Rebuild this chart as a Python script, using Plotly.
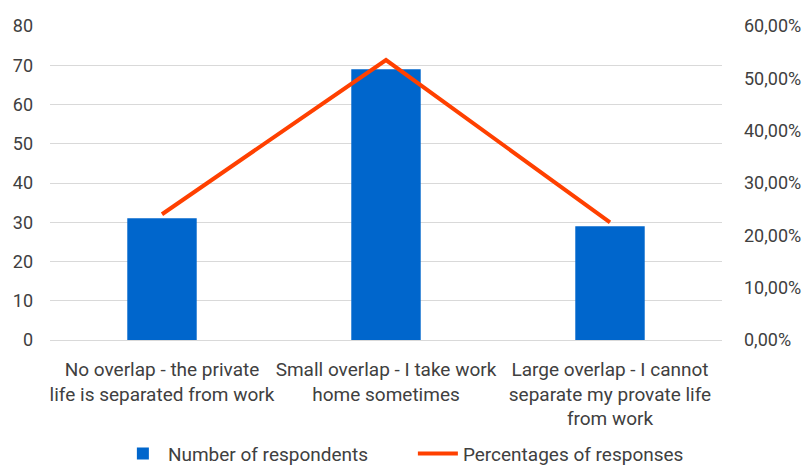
import plotly.graph_objects as go

categories = [
    "No overlap - the private<br>life is separated from work",
    "Small overlap - I take work<br>home sometimes",
    "Large overlap - I cannot<br>separate my provate life<br>from work",
]
respondents = [31, 69, 29]
percentages = [0.2403, 0.5349, 0.2248]

FONT = "Roboto"
FS = 18
COL = "#404040"

fig = go.Figure()
fig.add_trace(go.Bar(
    x=categories, y=respondents, name="Number of respondents",
    marker=dict(color="#0066CC", line=dict(width=0)), width=0.31,
))
fig.add_trace(go.Scatter(
    x=categories, y=percentages, name="Percentages of responses",
    mode="lines", line=dict(color="#FF4000", width=4), yaxis="y2",
))

fig.update_layout(
    width=805, height=471,
    margin=dict(l=50, r=83, t=26, b=131, autoexpand=False),
    paper_bgcolor="white", plot_bgcolor="white",
    separators=",.",
    font=dict(family=FONT, size=FS, color=COL),
    showlegend=True,
    legend=dict(orientation="h", x=0.54, xanchor="center", y=-0.362, yanchor="middle",
                font=dict(size=19, color=COL), itemwidth=40, entrywidth=240,
                traceorder="normal"),
    xaxis=dict(showgrid=False, showline=True, linecolor="#d9d9d9", linewidth=1, automargin=False,
               ticks="", tickangle=0, ticklabelstandoff=12, tickfont=dict(size=19, color=COL)),
    yaxis=dict(range=[0, 80], dtick=10, showgrid=True, gridcolor="#d9d9d9", gridwidth=1,
               zeroline=False, showline=False, ticks="", ticklabelstandoff=16, automargin=False,
               tickfont=dict(size=FS, color=COL)),
    yaxis2=dict(range=[0, 0.6], dtick=0.1, tickformat=".2%", overlaying="y", side="right",
                showgrid=False, zeroline=False, showline=False, ticks="", ticklabelstandoff=21,
                automargin=False, tickfont=dict(size=FS, color=COL)),
)

fig.write_html("out.html")
